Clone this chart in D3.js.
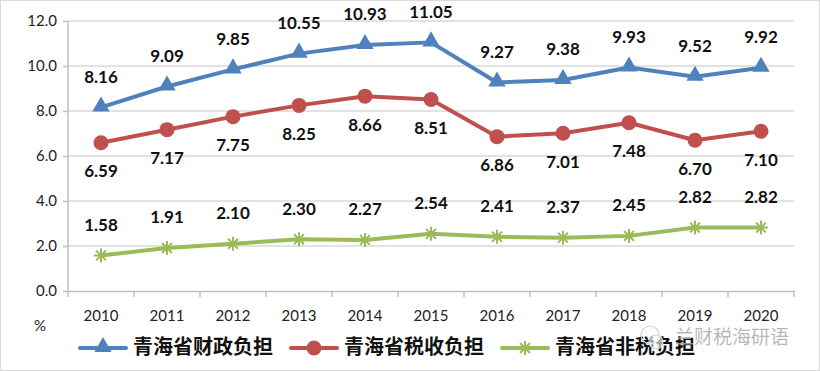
<!DOCTYPE html>
<html><head><meta charset="utf-8">
<script src="https://cdn.jsdelivr.net/npm/d3@7"></script>
<style>body{margin:0;background:#fff}svg{display:block}</style>
</head><body><svg id="c" width="820" height="371"></svg>
<script>
const years = ["2010","2011","2012","2013","2014","2015","2016","2017","2018","2019","2020"];
const fiscal = [8.16,9.09,9.85,10.55,10.93,11.05,9.27,9.38,9.93,9.52,9.92];
const tax = [6.59,7.17,7.75,8.25,8.66,8.51,6.86,7.01,7.48,6.70,7.10];
const nontax = [1.58,1.91,2.10,2.30,2.27,2.54,2.41,2.37,2.45,2.82,2.82];
const yTicks = [0,2,4,6,8,10,12];
const seriesNames = ["青海省财政负担","青海省税收负担","青海省非税负担"];

const svg = d3.select("#c");
svg.append("rect").attr("x",0.5).attr("y",0.5).attr("width",819).attr("height",370).attr("fill","#fff").attr("stroke","#d9d9d9");

const x = d3.scaleBand().domain(years).range([68,794]);
const y = d3.scaleLinear().domain([0,12]).range([291,21]);

svg.append("g").selectAll("line").data(yTicks.filter(d=>d>0)).join("line")
  .attr("x1",68).attr("x2",794).attr("y1",d=>y(d)).attr("y2",d=>y(d))
  .attr("stroke","#d9d9d9").attr("stroke-width",1.5);

const ya = svg.append("g").attr("transform","translate(68,0)")
  .call(d3.axisLeft(y).tickValues(yTicks).tickFormat(d3.format(".1f")).tickSize(5).tickPadding(6));
ya.select(".domain").attr("stroke","#bfbfbf").attr("stroke-width",1.5).attr("d","M0,21V291");
ya.selectAll(".tick line").attr("stroke","#bfbfbf").attr("stroke-width",1.5);
ya.selectAll("text").attr("font-family","Lato, 'Open Sans', sans-serif").attr("font-size",15).attr("fill","#222");

const xa = svg.append("g").attr("transform","translate(0,291)")
  .call(d3.axisBottom(x).tickSize(0).tickPadding(19));
xa.select(".domain").attr("stroke","#bfbfbf").attr("stroke-width",1.5);
xa.selectAll("text").attr("font-family","Lato, 'Open Sans', sans-serif").attr("font-size",15).attr("fill","#222");
const bounds = years.map(d=>x(d)).concat([794]);
xa.selectAll(".bt").data(bounds).join("line").attr("class","bt")
  .attr("x1",d=>d).attr("x2",d=>d).attr("y1",0).attr("y2",6)
  .attr("stroke","#bfbfbf").attr("stroke-width",1.5);

svg.append("text").attr("x",40).attr("y",331).attr("text-anchor","middle")
  .attr("font-family","Lato, sans-serif").attr("font-size",15).attr("fill","#222").text("%");

const cx = d => x(d)+x.bandwidth()/2;
const colors = ["#4F81BD","#C0504D","#9BBB59"];
const data = [fiscal,tax,nontax];
const line = d3.line().x((d,i)=>cx(years[i])).y(d=>y(d));

const tri = d3.symbol().type(d3.symbolTriangle).size(130);
function starPath(r){
  let p="";
  for(let k=0;k<4;k++){const a=k*Math.PI/4;p+=`M${-r*Math.cos(a)},${-r*Math.sin(a)}L${r*Math.cos(a)},${r*Math.sin(a)}`;}
  return p;
}

data.forEach((vals,s)=>{
  const g = svg.append("g");
  g.append("path").datum(vals).attr("d",line).attr("fill","none")
    .attr("stroke",colors[s]).attr("stroke-width",4).attr("stroke-linejoin","round");
  const m = g.selectAll(".m").data(vals).join("g")
    .attr("transform",(d,i)=>`translate(${cx(years[i])},${y(d)})`);
  if(s===0) m.append("path").attr("d",tri()).attr("fill",colors[0]).attr("transform","translate(0,-1)");
  if(s===1) m.append("circle").attr("r",7.5).attr("fill",colors[1]);
  if(s===2) m.append("path").attr("d",starPath(7)).attr("stroke",colors[2]).attr("stroke-width",2).attr("fill","none");
  const off = s===1 ? 30 : -29;
  g.selectAll(".l").data(vals).join("text")
    .attr("x",(d,i)=>cx(years[i])).attr("y",d=>y(d)+off)
    .attr("text-anchor","middle").attr("dominant-baseline","middle")
    .attr("font-family","Lato, 'Open Sans', sans-serif").attr("font-weight","bold").attr("font-size",17).attr("fill","#111")
    .text(d=>d.toFixed(2));
});

// legend
const legX = [80,291,502];
seriesNames.forEach((n,s)=>{
  const g = svg.append("g").attr("transform",`translate(${legX[s]},348)`);
  g.append("line").attr("x1",0).attr("x2",46).attr("stroke",colors[s]).attr("stroke-width",4).attr("stroke-linecap","round");
  if(s===0) g.append("path").attr("d",tri()).attr("fill",colors[0]).attr("transform","translate(23,-1)");
  if(s===1) g.append("circle").attr("cx",23).attr("r",7.5).attr("fill",colors[1]);
  if(s===2) g.append("path").attr("d",starPath(7)).attr("transform","translate(23,0)").attr("stroke",colors[2]).attr("stroke-width",2).attr("fill","none");
  g.append("text").attr("x",53).attr("y",1).attr("dominant-baseline","middle")
    .attr("font-family","'Noto Sans CJK SC', sans-serif").attr("font-weight","bold").attr("font-size",20).attr("fill","#111").text(n);
});

// watermark
const wm = svg.append("g").attr("transform","translate(650,335)");
wm.append("circle").attr("cx",0).attr("cy",0).attr("r",9).attr("fill","none").attr("stroke","#cfcfcf").attr("stroke-width",1.2);
wm.append("circle").attr("cx",6).attr("cy",7).attr("r",7).attr("fill","#fff").attr("fill-opacity",0.6).attr("stroke","#cfcfcf").attr("stroke-width",1.2);
wm.append("text").attr("x",25).attr("y",4).attr("dominant-baseline","middle")
  .attr("font-family","'Noto Sans CJK SC', sans-serif").attr("font-size",19).attr("fill","#aaaaaa").attr("fill-opacity",0.85).text("兰财税海研语");
</script></body></html>
